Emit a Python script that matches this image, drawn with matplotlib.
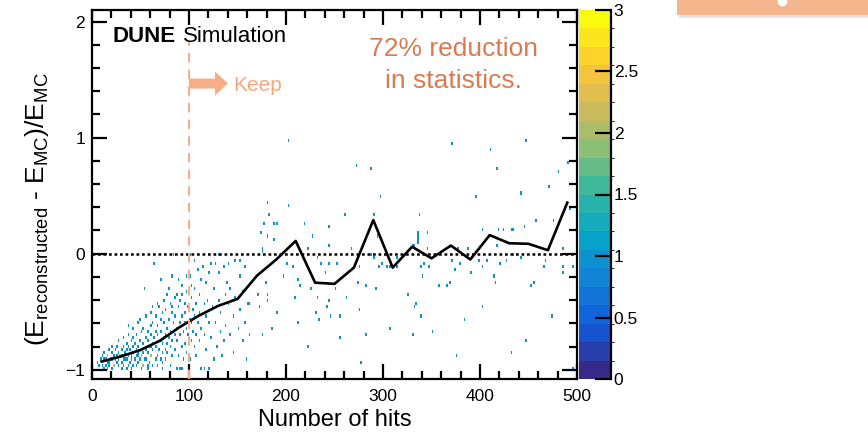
import numpy as np
import matplotlib
matplotlib.use('Agg')
import matplotlib.pyplot as plt
from matplotlib.colors import ListedColormap, BoundaryNorm, LinearSegmentedColormap
from matplotlib.patches import Rectangle
from matplotlib.lines import Line2D
from matplotlib.ticker import MultipleLocator, FuncFormatter

plt.rcParams['font.family'] = ['Liberation Sans', 'DejaVu Sans']
plt.rcParams['mathtext.fontset'] = 'custom'
plt.rcParams['mathtext.rm'] = 'Liberation Sans'
plt.rcParams['mathtext.it'] = 'Liberation Sans:italic'
plt.rcParams['mathtext.bf'] = 'Liberation Sans:bold'

# ---------------- data ----------------
# mean profile (bins of 20 hits)
profile_hits = [10, 30, 50, 70, 90, 110, 130, 150, 170, 190, 210, 230, 250,
                270, 290, 310, 330, 350, 370, 390, 410, 430, 450, 470, 490]
profile_res = [-0.93, -0.885, -0.83, -0.75, -0.635, -0.535, -0.45, -0.39, -0.19,
               -0.05, 0.11, -0.25, -0.26, -0.12, 0.29, -0.12, 0.06, -0.04, 0.07,
               -0.05, 0.16, 0.09, 0.085, 0.03, 0.44]

# events with few hits (dense region), (hits, resolution) pairs
dense_hits = [
    6, 8, 9, 10, 11, 12, 12, 13, 14, 14, 15, 15,
    16, 16, 17, 18, 18, 19, 20, 20, 21, 21, 22, 23, 23, 24, 24, 25,
    26, 26, 27, 27, 28, 28, 29, 29, 30, 30, 31, 31, 32, 32, 33, 33, 34, 34, 35, 35,
    36, 36, 37, 37, 38, 38, 39, 39, 40, 40, 41, 41, 42, 42, 43, 43, 44, 44, 45, 45, 38, 42,
    46, 46, 47, 47, 48, 48, 49, 49, 50, 50, 51, 51, 52, 52, 53, 53, 54, 54, 55, 55, 47, 50,
    53, 49,
    56, 56, 57, 57, 58, 58, 59, 59, 60, 60, 61, 61, 62, 62, 63, 63, 64, 64, 65, 65, 58, 61,
    63, 60,
    66, 66, 67, 67, 68, 68, 69, 69, 70, 70, 71, 71, 72, 72, 73, 73, 74, 74, 75, 75, 67, 70,
    72, 74,
    76, 76, 77, 77, 78, 78, 79, 79, 80, 80, 81, 81, 82, 82, 83, 83, 84, 84, 85, 85, 79, 83,
    86, 86, 87, 87, 88, 88, 89, 89, 90, 90, 91, 91, 92, 92, 93, 93, 94, 94, 95, 95, 89, 92,
    96, 96, 97, 97, 98, 98, 99, 99, 100, 100, 101, 101, 102, 102, 103, 103, 104, 104, 105, 105,
    106, 106, 107, 108, 108, 109, 109, 110, 111, 111, 112, 113, 113, 114, 115, 116, 116, 117,
    118, 118, 119, 120, 120, 121, 122, 123, 124, 125,
    126, 127, 127, 128, 129, 130, 131, 131, 132, 133, 134, 135, 136, 137, 138, 139, 140, 141,
    142, 143, 145, 146, 147, 148, 150, 152, 152, 153, 155, 156, 157, 158, 159, 160]
dense_res = [
    -0.93, -0.97, -0.90, -0.95, -0.88, -0.99, -0.92, -0.86, -0.96, -0.91, -0.94, -0.89,
    -0.98, -0.87, -0.93, -0.84, -0.96, -0.90, -0.99, -0.86, -0.92, -0.81, -0.95, -0.88, -0.97,
    -0.83, -0.91, -0.94,
    -0.79, -0.89, -0.97, -0.85, -0.92, -0.76, -0.88, -0.88, -0.99, -0.82, -0.94, -0.87, -0.90,
    -0.73, -0.96, -0.80, -0.86, -0.92, -0.77, -0.98,
    -0.84, -0.91, -0.70, -0.95, -0.88, -0.79, -0.93, -0.83, -0.99, -0.74, -0.87, -0.90, -0.81,
    -0.96, -0.65, -0.86, -0.92, -0.77, -0.84, -0.97, -0.62, -0.72,
    -0.89, -0.70, -0.94, -0.80, -0.86, -0.60, -0.91, -0.75, -0.99, -0.83, -0.68, -0.88, -0.95,
    -0.78, -0.85, -0.64, -0.31, -0.92, -0.72, -0.82, -0.88, -0.88, -0.97, -0.57,
    -0.90, -0.55, -0.76, -0.97, -0.86, -0.66, -0.81, -0.93, -0.70, -0.50, -0.88, -0.62, -0.95,
    -0.77, -0.84, -0.58, -0.09, -0.73, -0.91, -0.67, -0.99, -0.80, -0.46, -0.87,
    -0.79, -0.54, -0.88, -0.70, -0.96, -0.61, -0.83, -0.45, -0.75, -0.92, -0.22, -0.66, -0.86,
    -0.51, -0.78, -0.99, -0.58, -0.40, -0.82, -0.69, -0.42, -0.57, -0.93, -0.73,
    -0.90, -0.48, -0.63, -0.77, -0.36, -0.85, -0.56, -0.71, -0.96, -0.43, -0.66, -0.80, -0.20,
    -0.52, -0.74, -0.88, 0.00, -0.60, -0.39, -0.69, -0.30, -0.46,
    -0.82, -0.55, -0.64, -0.34, -0.99, -0.75, -0.47, -0.87, -0.99, -0.60, -0.70, -0.41, -0.99,
    -0.80, -0.53, -0.28, -0.67, -0.90, -0.44, -0.58, -0.22, -0.36,
    -0.77, -0.50, -0.63, -0.33, -0.18, -0.85, -0.45, -0.70, -0.01, -0.56, -0.19, -0.90, -0.60,
    -0.38, -0.74, -0.27, -0.48, -0.66, -0.06, -0.81,
    -0.53, -0.30, -0.70, -0.42, -0.88, -0.13, -0.60, -0.50, -0.75, -0.35, -0.22, -0.99, -0.63,
    -0.11, -0.44, -0.99, -0.70, -0.25, -0.83, -0.55, -0.40, -0.99, -0.60, -0.17, -0.72, -0.08,
    -0.47, -0.90,
    -0.29, -0.02, -0.075, -0.58, -0.80, -0.17, -0.017, -0.41, -0.68, -0.50, -0.88, -0.12, -0.76,
    -0.35, -0.62, -0.24, -0.44, -0.095, -0.70, -0.30, -0.55, -0.85, -0.06, -0.38, -0.65, -0.052,
    -0.48, -0.20, -0.75, -0.32, -0.103, -0.58, -0.90, -0.42]

# events with many hits (sparse region)
sparse_hits = [
    202, 273, 287, 297, 181, 203, 183, 261, 291, 177, 188, 190, 219, 244, 174, 180, 188, 228,
    294, 223, 244, 268, 175, 176, 335, 336, 330, 333,
    371, 447, 410, 417, 490, 481, 470, 442, 395, 338, 457, 475, 402, 419, 424, 433, 434, 445,
    346, 336, 335, 417, 345, 378, 388, 493, 486,
    200, 232, 235, 244, 253, 240, 179, 197, 208, 213, 214, 225, 251, 170, 180, 209, 180, 163,
    233, 244, 242, 263, 172, 191, 230, 234, 245, 255, 275, 212, 186, 176, 163, 256, 283, 222,
    277, 274, 283, 292, 276, 295, 299, 304, 307, 314, 326, 334, 307, 331, 291, 287, 314,
    343, 347, 339, 351, 341, 371, 379, 374, 358, 365, 369, 391, 399, 402, 408, 414, 415, 420,
    427, 434, 443, 467, 465, 452, 456, 486, 486, 495, 333, 339, 351, 384, 402, 474, 447, 376,
    432, 495]
sparse_res = [
    0.974, 0.767, 0.730, 0.509, 0.451, 0.428, 0.345, 0.330, 0.330, 0.270, 0.264, 0.247, 0.270,
    0.230, 0.170, 0.149, 0.115, 0.149, 0.149, 0.058, 0.069, 0.055, 0.034, 0.030, 0.170, 0.120,
    0.086, 0.086,
    0.954, 0.974, 0.897, 0.733, 0.790, 0.710, 0.572, 0.532, 0.494, 0.345, 0.293, 0.293, 0.216,
    0.216, 0.216, 0.198, 0.210, 0.230, 0.172, 0.155, 0.100, 0.069, 0.034, 0.040, 0.058, 0.385,
    0.040,
    -0.075, -0.046, -0.095, -0.075, -0.095, -0.166, -0.253, -0.200, -0.123, -0.210, -0.267,
    -0.305, -0.305, -0.362, -0.362, -0.368, -0.411, -0.425, -0.368, -0.411, -0.448, -0.390,
    -0.468, -0.506, -0.506, -0.569, -0.546, -0.526, -0.491, -0.583, -0.649, -0.707, -0.698,
    -0.727, -0.684, -0.808, -0.942, -0.253, -0.282, -0.305, -0.123, -0.103, -0.075, -0.103,
    -0.103, -0.109, -0.362, -0.440, -0.649, -0.684, -0.023, -0.006, -0.037,
    -0.080, -0.103, -0.123, -0.046, -0.200, -0.052, -0.089, -0.144, -0.282, -0.282, -0.253,
    -0.166, -0.052, -0.103, -0.066, -0.190, -0.247, -0.095, -0.052, -0.017, -0.023, -0.052,
    -0.103, -0.282, -0.253, -0.103, -0.172, -0.103, -0.448, -0.540, -0.664, -0.563, -0.468,
    -0.540, -0.747, -0.885, -0.862, -0.985]

x_ticks = [0, 100, 200, 300, 400, 500]
y_ticks = [-1, 0, 1, 2]
z_ticks = [0, 0.5, 1, 1.5, 2, 2.5, 3]

# ---------------- figure ----------------
W, H = 868, 433
fig = plt.figure(figsize=(W / 100, H / 100), dpi=100)
L, R, T, B = 92, 577, 10, 379
ax = fig.add_axes([L / W, 1 - B / H, (R - L) / W, (B - T) / H])
cax = fig.add_axes([579 / W, 1 - B / H, 32 / W, (B - T) / H])

# ROOT kBird palette, 20 contour levels
stops = [0.0, 0.125, 0.25, 0.375, 0.5, 0.625, 0.75, 0.875, 1.0]
red = [0.2082, 0.0592, 0.0780, 0.0232, 0.1802, 0.5301, 0.8186, 0.9956, 0.9764]
green = [0.1664, 0.3599, 0.5041, 0.6419, 0.7178, 0.7492, 0.7328, 0.7862, 0.9832]
blue = [0.5293, 0.8684, 0.8385, 0.7914, 0.6425, 0.4662, 0.3499, 0.1968, 0.0539]
bird = LinearSegmentedColormap.from_list('bird', list(zip(stops, zip(red, green, blue))))
ncont = 20
cmap = ListedColormap([bird(i / (ncont - 1)) for i in range(ncont)])
norm = BoundaryNorm(np.linspace(0, 3, ncont + 1), ncont)

all_hits = np.array(dense_hits + sparse_hits, dtype=float)
all_res = np.array(dense_res + sparse_res, dtype=float)
xedges = np.linspace(0, 500, 301)
yedges = np.linspace(-1.08, 2.1, 121)
h, xe, ye, im = ax.hist2d(all_hits + 0.3, all_res, bins=[xedges, yedges], cmap=cmap,
                          norm=norm, cmin=1)

ax.axhline(0, color='black', lw=1.8, ls=(0, (1.1, 1.1)), zorder=3)
ax.plot(profile_hits, profile_res, color='black', lw=1.9, zorder=4)
ax.vlines(100, -1.08, 1.82, colors='#F6AE88', linestyles=(0, (4.5, 3.5)), lw=1.5, zorder=5)
ax.arrow(100, 1.466, 40.2, 0, width=0.086, head_width=0.207, head_length=13.4,
         length_includes_head=True, color='#F5AE86', lw=0, zorder=5)

ax.set_xlim(0, 500)
ax.set_ylim(-1.08, 2.1)
ax.set_xticks(x_ticks)
ax.set_yticks(y_ticks)
ax.xaxis.set_minor_locator(MultipleLocator(20))
ax.yaxis.set_minor_locator(MultipleLocator(0.2))
ax.tick_params(which='both', direction='in', top=True, right=True, width=1.6,
               labelsize=12.5, colors='black')
ax.tick_params(which='major', length=11)
ax.tick_params(which='minor', length=6)
ax.tick_params(axis='x', pad=7)
ax.tick_params(axis='y', pad=5)
for s in ax.spines.values():
    s.set_linewidth(1.6)

ax.set_xlabel('Number of hits', fontsize=17)
ax.xaxis.set_label_coords(0.5, -0.08)
ax.set_ylabel(r'(E$_{\mathregular{reconstructed}}$ - E$_{\mathregular{MC}}$)/E$_{\mathregular{MC}}$',
              fontsize=19)
ax.yaxis.set_label_coords(-0.084, 0.46)

# colorbar
cb = fig.colorbar(im, cax=cax, ticks=z_ticks)
cb.outline.set_visible(False)
cax.yaxis.set_ticks_position('right')
cax.tick_params(direction='in', length=11.5, width=1.6, labelsize=12.5, pad=2)
cax.yaxis.set_major_formatter(FuncFormatter(lambda v, p: ('%g' % v)))
cax.add_line(Line2D([1, 1], [0, 1], transform=cax.transAxes, color='black', lw=1.6,
                    clip_on=False))

# annotations
fig.text(113 / W, 1 - 42 / H, 'DUNE', fontsize=16, fontweight='bold', va='baseline')
fig.text(183 / W, 1 - 42 / H, 'Simulation', fontsize=16, va='baseline')
fig.text(453 / W, 1 - 56 / H, '72% reduction', fontsize=19, color='#D97B50',
         ha='center', va='baseline')
fig.text(453 / W, 1 - 88 / H, 'in statistics.', fontsize=19, color='#D97B50',
         ha='center', va='baseline')
fig.text(233 / W, 1 - 91 / H, 'Keep', fontsize=15, color='#F4A67C', va='baseline')

# partially visible box in the top-right corner
fig.patches.append(Rectangle((679 / W, 1 - 18 / H), (W - 679) / W, 4 / H,
                             transform=fig.transFigure, facecolor='#C9CFD6', alpha=0.5,
                             edgecolor='none'))
fig.patches.append(Rectangle((677 / W, 1 - 15 / H), (W - 677) / W, 15 / H,
                             transform=fig.transFigure, facecolor='#F6B68D',
                             edgecolor='none'))
fig.add_artist(Line2D([782 / W], [1 - 1 / H], marker='o', ms=6, color='white',
                      transform=fig.transFigure))

fig.savefig('out.png', dpi=100)
